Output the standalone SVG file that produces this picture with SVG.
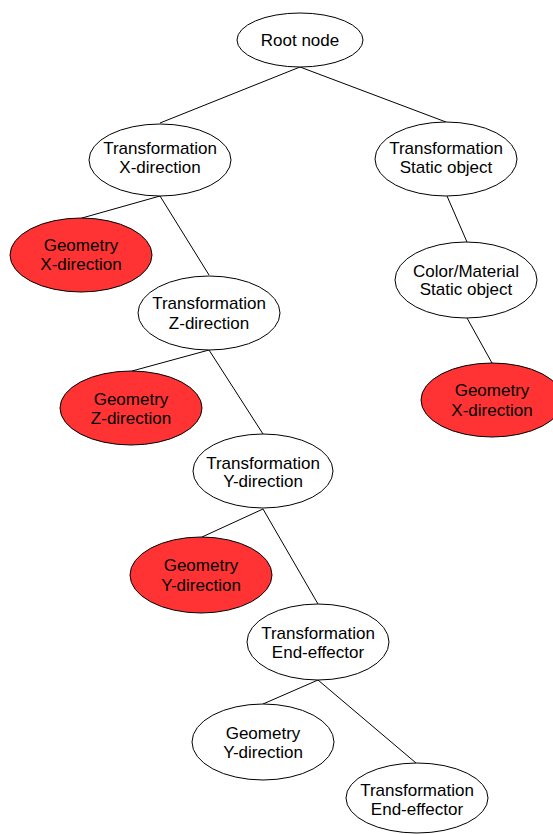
<svg xmlns="http://www.w3.org/2000/svg" width="553" height="834" viewBox="0 0 553 834">
  <style>
    .node ellipse { fill: #ffffff; stroke: #000000; stroke-width: 1; }
    .node.geom ellipse { fill: #ff3333; }
    .node text { font-family: "Liberation Sans", Arial, sans-serif; font-size: 17px; fill: #000000; text-anchor: middle; }
    #connectors line { stroke: #000000; stroke-width: 1; }
  </style>
  <rect width="553" height="834" fill="#ffffff"/>

  <!-- scene graph edges -->
  <g id="connectors">
    <line x1="300" y1="67" x2="160" y2="123"/>
    <line x1="300" y1="67" x2="446" y2="122"/>
    <line x1="160" y1="196" x2="82" y2="218"/>
    <line x1="160" y1="196" x2="209" y2="275"/>
    <line x1="209" y1="350" x2="132" y2="371"/>
    <line x1="209" y1="350" x2="263" y2="434"/>
    <line x1="263" y1="509" x2="202" y2="537"/>
    <line x1="263" y1="509" x2="318" y2="604"/>
    <line x1="318" y1="680" x2="263" y2="704"/>
    <line x1="318" y1="680" x2="416" y2="763"/>
    <line x1="447" y1="196" x2="467" y2="242"/>
    <line x1="467" y1="318" x2="492" y2="363"/>
  </g>

  <g id="root" class="node">
    <ellipse cx="300" cy="40" rx="63" ry="27"/>
    <text x="300" y="46">Root node</text>
  </g>

  <g id="trans-x" class="node">
    <ellipse cx="160" cy="160" rx="71" ry="36"/>
    <text x="160" y="154">Transformation</text>
    <text x="160" y="173">X-direction</text>
  </g>

  <g id="geom-x" class="node geom">
    <ellipse cx="81" cy="255" rx="71" ry="37"/>
    <text x="81" y="251">Geometry</text>
    <text x="81" y="270">X-direction</text>
  </g>

  <g id="trans-z" class="node">
    <ellipse cx="209" cy="313" rx="71" ry="37"/>
    <text x="209" y="309">Transformation</text>
    <text x="209" y="329">Z-direction</text>
  </g>

  <g id="geom-z" class="node geom">
    <ellipse cx="131" cy="408" rx="71" ry="37"/>
    <text x="131" y="405">Geometry</text>
    <text x="131" y="424">Z-direction</text>
  </g>

  <g id="trans-y" class="node">
    <ellipse cx="263" cy="471" rx="70" ry="37"/>
    <text x="263" y="469">Transformation</text>
    <text x="263" y="487">Y-direction</text>
  </g>

  <g id="geom-y" class="node geom">
    <ellipse cx="201" cy="575" rx="71" ry="38"/>
    <text x="201" y="571">Geometry</text>
    <text x="201" y="591">Y-direction</text>
  </g>

  <g id="trans-ee" class="node">
    <ellipse cx="318" cy="642" rx="71" ry="38"/>
    <text x="318" y="639">Transformation</text>
    <text x="318" y="658">End-effector</text>
  </g>

  <g id="geom-y-ee" class="node">
    <ellipse cx="263" cy="742" rx="71" ry="38"/>
    <text x="263" y="739">Geometry</text>
    <text x="263" y="758">Y-direction</text>
  </g>

  <g id="trans-ee-2" class="node">
    <ellipse cx="417" cy="798" rx="71" ry="35"/>
    <text x="417" y="796">Transformation</text>
    <text x="417" y="815">End-effector</text>
  </g>

  <g id="trans-static" class="node">
    <ellipse cx="446" cy="159" rx="71" ry="37"/>
    <text x="446" y="154">Transformation</text>
    <text x="446" y="173">Static object</text>
  </g>

  <g id="material-static" class="node">
    <ellipse cx="466" cy="280" rx="71" ry="38"/>
    <text x="466" y="277">Color/Material</text>
    <text x="466" y="295">Static object</text>
  </g>

  <g id="geom-static" class="node geom">
    <ellipse cx="492" cy="400" rx="71" ry="37"/>
    <text x="492" y="396">Geometry</text>
    <text x="492" y="416">X-direction</text>
  </g>
</svg>
